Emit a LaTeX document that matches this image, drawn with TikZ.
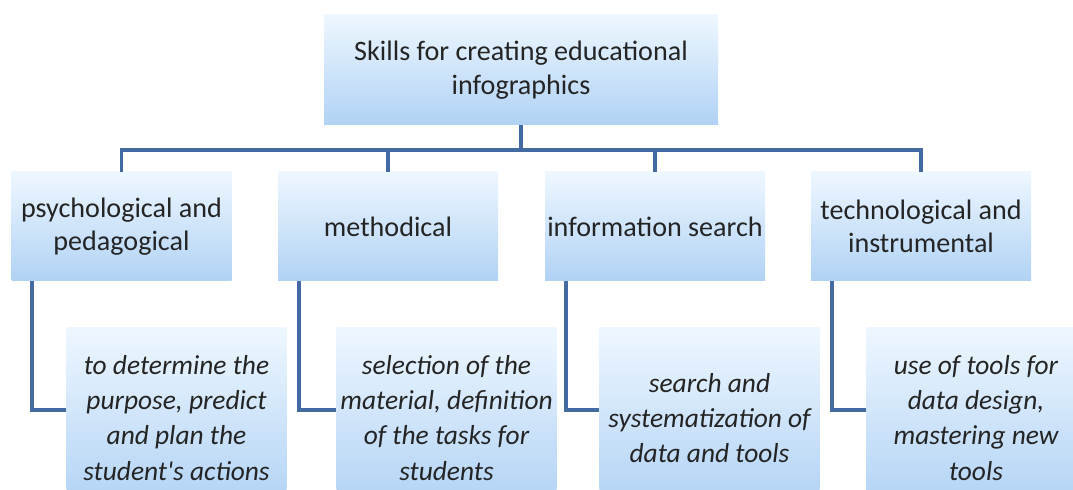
\documentclass[tikz,border=0pt]{standalone}
\usepackage{fontspec}
\setmainfont{Carlito}
\definecolor{edlight}{RGB}{238,247,255}
\definecolor{edsky}{RGB}{176,210,244}
\definecolor{edline}{RGB}{68,106,164}
\definecolor{edtext}{RGB}{36,36,36}

\begin{document}
\begin{tikzpicture}[
  every node/.style={text=edtext},
  rootbox/.style={top color=edlight,bottom color=edsky,align=center,inner sep=0pt,
                  minimum width=9.85cm,minimum height=2.75cm,
                  font=\fontsize{20}{24}\selectfont},
  areabox/.style={top color=edlight,bottom color=edsky,align=center,inner sep=0pt,
                  minimum width=5.5cm,minimum height=2.725cm,
                  font=\fontsize{20}{23}\selectfont},
  taskbox/.style={top color=edlight,bottom color=edsky,align=center,inner sep=0pt,
                  minimum width=5.5cm,minimum height=4.5cm,
                  font=\fontsize{19.5}{25}\selectfont\itshape},
  link/.style={draw=edline,line width=2.8pt},
]
  \useasboundingbox (0,0) rectangle (26.825,-12.25);

  % root
  \node[rootbox] (root) at (13.025,-1.75) {Skills for creating educational\\infographics};

  % skill areas
  \node[areabox] (psy)  at (3.0375,-5.6625) {psychological and\\pedagogical};
  \node[areabox] (meth) at (9.7,-5.6625)    {methodical};
  \node[areabox] (info) at (16.375,-5.6625) {information search};
  \node[areabox] (tech) at (23.025,-5.6625) {technological and\\instrumental};

  % tasks (bottom edge runs past the page)
  \node[taskbox] (psyT)  at (4.4125,-10.45)  {to determine the\\purpose, predict\\and plan the\\student\textquotesingle s actions};
  \node[taskbox] (methT) at (11.1625,-10.45) {selection of\ the\\material, definition\\of the tasks for\\students};
  \node[taskbox] (infoT) at (17.7375,-10.45) {search and\\systematization of\\data and tools};
  \node[taskbox] (techT) at (24.4,-10.45)    {use of tools for\\data design,\\mastering new\\tools};

  % bus under the root
  \coordinate (split) at (13.025,-3.75);
  \foreach \a in {psy,meth,info,tech}
    \draw[link] (root.south) -- (split) -| (\a.north);

  % area to task
  \foreach \a in {psy,meth,info,tech}
    \draw[link] ([xshift=0.53cm]\a.south west) |- ([yshift=0.2cm]\a T.west);
\end{tikzpicture}
\end{document}
